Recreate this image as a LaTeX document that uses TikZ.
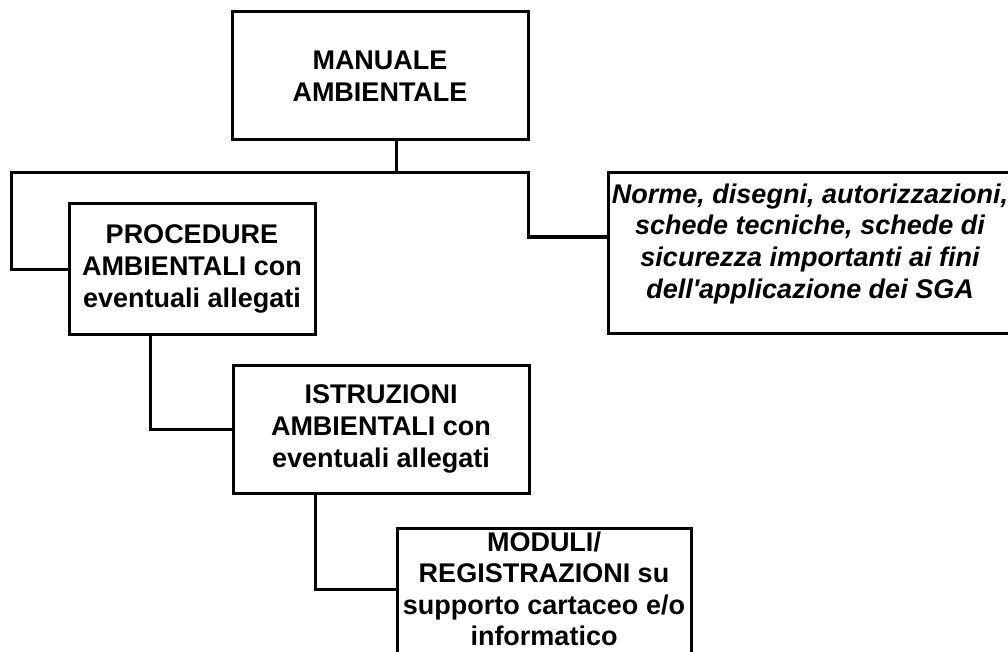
\documentclass[tikz,border=0pt]{standalone}
\usepackage{fontspec}
\setmainfont{Liberation Sans}
\begin{document}
\begin{tikzpicture}[x=1pt,y=-1pt,
  box/.style={draw, line width=3pt, inner sep=0pt, align=center,
    font=\fontsize{27}{32.4}\selectfont\bfseries},
  conn/.style={line width=3pt}]
\useasboundingbox (0,0) rectangle (1008,652);
\node[box, minimum width=296pt, minimum height=128pt] (man) at (380,76) {MANUALE\\AMBIENTALE};
\node[box, minimum width=246pt, minimum height=130pt] (proc) at (192,269) {PROCEDURE\\AMBIENTALI con\\eventuali allegati};
\node[box, minimum width=404pt, minimum height=160pt, text depth=24pt,
  font=\fontsize{27}{31.8}\selectfont\bfseries\itshape] (norme) at (810,253)
  {Norme, disegni, autorizzazioni,\\schede tecniche, schede di\\sicurezza importanti ai fini\\dell\textquotesingle applicazione dei SGA};
\node[box, minimum width=296pt, minimum height=128pt] (istr) at (381,429) {ISTRUZIONI\\AMBIENTALI con\\eventuali allegati};
\node[box, minimum width=294pt, inner ysep=3pt, text depth=60pt, anchor=north,
  font=\fontsize{27}{31.6}\selectfont\bfseries] (mod) at (544,527)
  {MODULI/\\REGISTRAZIONI su\\supporto cartaceo e/o\\informatico};
\coordinate (j0) at (396,173);
\coordinate (jl) at (11,173);
\coordinate (jr) at (528,173);
\coordinate (nr) at (608,237);
\coordinate (pj) at (150,429);
\coordinate (ij) at (315,589);
\draw[conn] (man.south -| j0) -- (j0);
\draw[conn] (j0) -- (jl) |- (proc.west);
\draw[conn] (j0) -- (jr) |- (nr);
\draw[conn] (proc.south -| pj) |- (istr.west);
\draw[conn] (istr.south -| ij) -- (ij) -- (mod.west |- ij);
\end{tikzpicture}
\end{document}
